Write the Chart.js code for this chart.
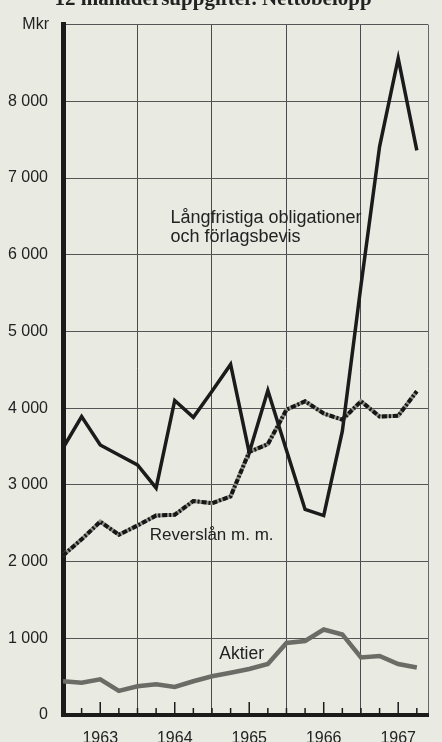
<!DOCTYPE html>
<html>
<head>
<meta charset="utf-8">
<script src="https://cdn.jsdelivr.net/npm/chart.js@4/dist/chart.umd.min.js"></script>
<style>
  html, body { margin: 0; padding: 0; background: #e9eae2; overflow: hidden; }
  canvas { display: block; }
</style>
</head>
<body>
<canvas id="chart" width="442" height="742"></canvas>
<script>
// kvartalsvärden, dec 1962 - sep 1967 (Mkr)
const years = ['1963', '1964', '1965', '1966', '1967'];
const yLabels = ['0', '1 000', '2 000', '3 000', '4 000', '5 000', '6 000', '7 000', '8 000', ''];
const quarters = [0, 1, 2, 3, 4, 5, 6, 7, 8, 9, 10, 11, 12, 13, 14, 15, 16, 17, 18, 19];

const obligationer = [3480, 3890, 3520, 3390, 3260, 2960, 4100, 3880, 4220, 4570, 3420, 4230, 3450, 2680, 2600, 3700, 5600, 7410, 8560, 7360];
const reverslan = [2080, 2290, 2520, 2350, 2470, 2600, 2610, 2790, 2760, 2850, 3430, 3530, 3980, 4090, 3930, 3850, 4090, 3890, 3900, 4220];
const aktier = [440, 420, 465, 315, 375, 400, 365, 440, 505, 550, 600, 665, 940, 965, 1115, 1050, 750, 770, 665, 620];

// texter i diagrammet (x i kvartal, y i Mkr)
const notes = [
    { text: 'Långfristiga obligationer', x: 5.77, y: 6410, size: 18 },
    { text: 'och förlagsbevis', x: 5.77, y: 6165, size: 18 },
    { text: 'Reverslån m. m.', x: 4.66, y: 2285, size: 17 },
    { text: 'Aktier', x: 8.39, y: 735, size: 17.5 }
];

const xMax = 19.6;
const ink = '#1b1b1b';

function pts(arr) {
    return arr.map((v, i) => ({ x: quarters[i], y: v }));
}

const extras = {
    id: 'extras',
    beforeDatasetsDraw(chart) {
        const { ctx, scales: { x, y } } = chart;
        ctx.save();
        ctx.strokeStyle = ink;
        ctx.lineWidth = 1.5;
        const base = y.getPixelForValue(0);
        quarters.forEach(q => {
            if (q === 0) return;
            const px = x.getPixelForValue(q);
            const len = q % 4 === 2 ? 13 : 7;
            ctx.beginPath();
            ctx.moveTo(px, base);
            ctx.lineTo(px, base - len);
            ctx.stroke();
        });
        ctx.restore();
    },
    afterDraw(chart) {
        const { ctx, scales: { x, y } } = chart;
        ctx.save();
        ctx.fillStyle = '#222';
        ctx.textBaseline = 'alphabetic';
        notes.forEach(n => {
            ctx.font = n.size + 'px "Liberation Sans", Arial, sans-serif';
            ctx.fillText(n.text, x.getPixelForValue(n.x), y.getPixelForValue(n.y));
        });
        ctx.font = '16px "Liberation Sans", Arial, sans-serif';
        ctx.textAlign = 'right';
        ctx.fillText('Mkr', 49, 29);
        ctx.textAlign = 'center';
        ctx.font = 'bold 21px "Liberation Serif", serif';
        ctx.fillText('12 månadersuppgifter. Nettobelopp', 213, 5);
        ctx.restore();
    }
};

new Chart(document.getElementById('chart'), {
    type: 'line',
    data: {
        // första dataset ritas överst
        datasets: [
            {
                data: pts(obligationer),
                borderColor: ink,
                borderWidth: 3.5,
                borderJoinStyle: 'miter',
                pointRadius: 0,
                tension: 0
            },
            {
                data: pts(reverslan),
                borderColor: '#161616',
                borderWidth: 4,
                borderDash: [5, 2, 2, 2],
                pointRadius: 0,
                tension: 0
            },
            {
                data: pts(reverslan),
                borderColor: '#909089',
                borderWidth: 4,
                pointRadius: 0,
                tension: 0
            },
            {
                data: pts(aktier),
                borderColor: '#6b6c66',
                borderWidth: 4.5,
                pointRadius: 0,
                tension: 0
            }
        ]
    },
    options: {
        responsive: false,
        animation: false,
        layout: { padding: { top: 17, right: 5, left: 0, bottom: 0 } },
        plugins: {
            legend: { display: false },
            tooltip: { enabled: false }
        },
        scales: {
            x: {
                type: 'linear',
                min: 0,
                max: xMax,
                afterBuildTicks: s => {
                    s.ticks = quarters.map(q => ({ value: q })).concat([{ value: xMax }]);
                },
                afterFit: s => { s.height = 27; },
                border: { color: ink, width: 4 },
                grid: {
                    drawTicks: false,
                    lineWidth: 1,
                    color: c => {
                        const v = c.tick ? c.tick.value : -1;
                        if (v === xMax) return '#666';
                        return v % 4 === 0 ? '#4a4a4a' : 'rgba(0,0,0,0)';
                    }
                },
                ticks: {
                    autoSkip: false,
                    maxRotation: 0,
                    padding: 14,
                    color: '#222',
                    font: { family: '"Liberation Sans", Arial, sans-serif', size: 16 },
                    callback: v => (v % 4 === 2 ? years[(v - 2) / 4] : '')
                }
            },
            y: {
                min: 0,
                max: 9000,
                afterFit: s => { s.width = 63; },
                border: { color: ink, width: 5 },
                grid: { drawTicks: false, color: '#555', lineWidth: 1 },
                ticks: {
                    stepSize: 1000,
                    padding: 15,
                    color: '#222',
                    font: { family: '"Liberation Sans", Arial, sans-serif', size: 16 },
                    callback: (v, i) => yLabels[i]
                }
            }
        }
    },
    plugins: [extras]
});
</script>
</body>
</html>
